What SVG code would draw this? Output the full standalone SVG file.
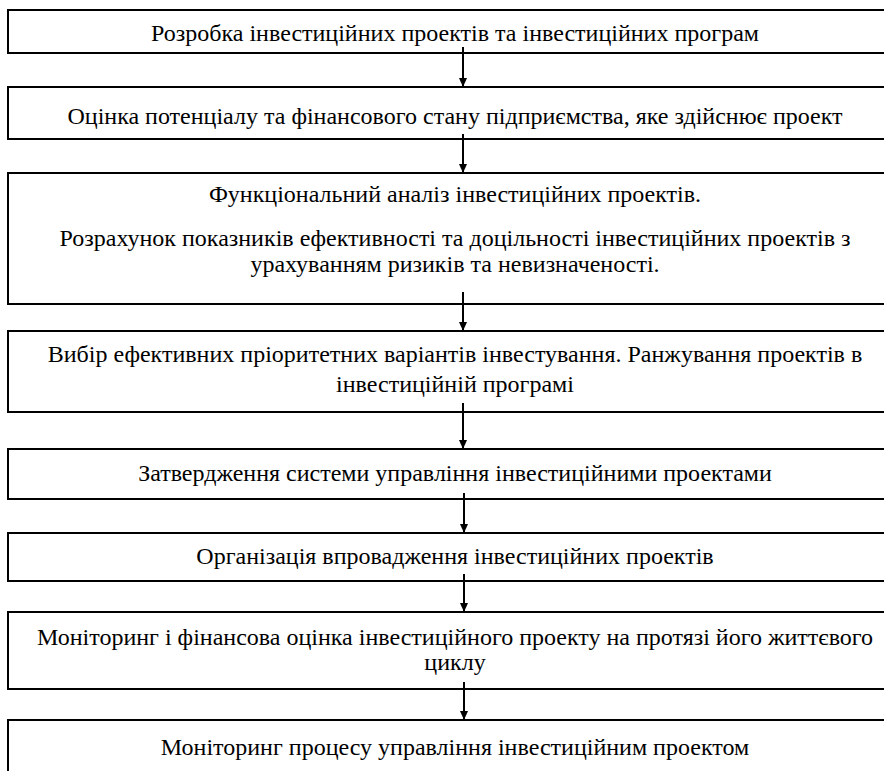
<svg xmlns="http://www.w3.org/2000/svg" width="884" height="771" viewBox="0 0 884 771">
<style>
.box{fill:#fff;stroke:#000;stroke-width:2}
.t{font-family:"Liberation Serif","Times New Roman","DejaVu Serif",serif;font-size:24px;fill:#000;text-anchor:middle}
.c{stroke:#000;stroke-width:2;fill:none;marker-end:url(#ah)}
</style>
<defs>
<marker id="ah" markerWidth="9" markerHeight="8" refX="9" refY="4" orient="auto" markerUnits="userSpaceOnUse" viewBox="0 0 9 8">
<path d="M0,0 L9,4 L0,8 Z" fill="#000"/>
</marker>
</defs>
<rect width="884" height="771" fill="#fff"/>
<g id="n1"><rect class="box" x="8" y="10" width="900" height="43"/><text class="t" x="455" y="41">Розробка інвестиційних проектів та інвестиційних програм</text></g>
<g id="n2"><rect class="box" x="8" y="87" width="900" height="52"/><text class="t" x="455" y="124">Оцінка потенціалу та фінансового стану підприємства, яке здійснює проект</text></g>
<g id="n3"><rect class="box" x="8" y="173" width="900" height="131"/><text class="t" x="455" y="202">Функціональний аналіз інвестиційних проектів.</text><text class="t" x="455" y="246">Розрахунок показників ефективності та доцільності інвестиційних проектів з</text><text class="t" x="455" y="272">урахуванням ризиків та невизначеності.</text></g>
<g id="n4"><rect class="box" x="8" y="331" width="900" height="81"/><text class="t" x="455" y="362">Вибір ефективних пріоритетних варіантів інвестування. Ранжування проектів в</text><text class="t" x="455" y="392">інвестиційній програмі</text></g>
<g id="n5"><rect class="box" x="8" y="449" width="900" height="50"/><text class="t" x="455" y="481">Затвердження системи управління інвестиційними проектами</text></g>
<g id="n6"><rect class="box" x="8" y="533" width="900" height="48"/><text class="t" x="455" y="564">Організація впровадження інвестиційних проектів</text></g>
<g id="n7"><rect class="box" x="8" y="612" width="900" height="77"/><text class="t" x="455" y="645">Моніторинг і фінансова оцінка інвестиційного проекту на протязі його життєвого</text><text class="t" x="455" y="670">циклу</text></g>
<g id="n8"><rect class="box" x="8" y="720" width="900" height="80"/><text class="t" x="455" y="755">Моніторинг процесу управління інвестиційним проектом</text></g>
<g id="connectors">
<line class="c" x1="463" y1="47" x2="463" y2="87"/>
<line class="c" x1="463" y1="134" x2="463" y2="173"/>
<line class="c" x1="463" y1="292" x2="463" y2="331"/>
<line class="c" x1="463" y1="403" x2="463" y2="449"/>
<line class="c" x1="464" y1="493" x2="464" y2="533"/>
<line class="c" x1="464" y1="574" x2="464" y2="612"/>
<line class="c" x1="464" y1="682" x2="464" y2="720"/>
</g>
</svg>
